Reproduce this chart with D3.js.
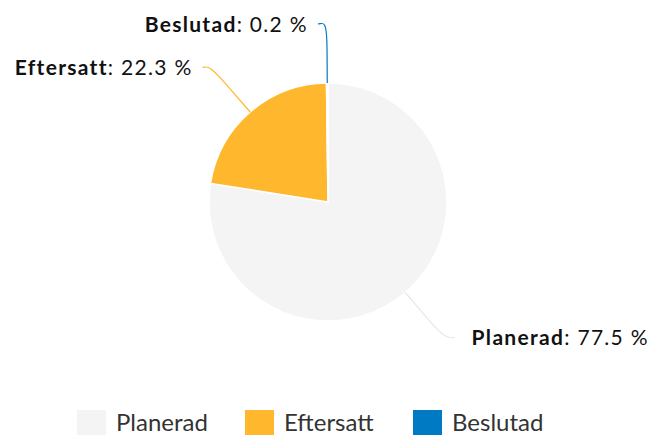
<!DOCTYPE html>
<html>
<head>
<meta charset="utf-8">
<script src="https://cdn.jsdelivr.net/npm/d3@7"></script>
<style>
  body { margin: 0; background: #fff; }
  #chart { width: 650px; height: 437px; }
  text { font-family: Lato, "Open Sans", sans-serif; }
</style>
</head>
<body>
<div id="chart"></div>
<script>
const categories = ["Planerad", "Eftersatt", "Beslutad"];
const values = [77.5, 22.3, 0.2];
const colors = ["#f4f4f4", "#ffb82e", "#007ac3"];
const connectorColors = ["#e8e8e8", "#ffb82e", "#007ac3"];

document.addEventListener("DOMContentLoaded", () => {
    const width = 650, height = 437;
    const cx = 328, cy = 202, radius = 119;
    const distance = 59;

    const svg = d3.select("#chart")
        .append("svg")
        .attr("width", width)
        .attr("height", height);

    const data = categories.map((c, i) => ({ name: c, value: values[i], color: colors[i], line: connectorColors[i] }));

    const pie = d3.pie().sort(null).value(d => d.value);
    const arcs = pie(data);
    const arc = d3.arc().innerRadius(0).outerRadius(radius);

    const g = svg.append("g").attr("transform", `translate(${cx},${cy})`);

    g.selectAll("path.slice")
        .data(arcs)
        .enter()
        .append("path")
        .attr("class", "slice")
        .attr("d", arc)
        .attr("fill", d => d.data.color)
        .attr("stroke", "#fff")
        .attr("stroke-width", 1.5)
        .attr("stroke-linejoin", "round");

    // point on a circle at given radius for the slice's mid angle
    const polar = (a, r) => [r * Math.sin(a), -r * Math.cos(a)];

    arcs.forEach(d => {
        const mid = (d.startAngle + d.endAngle) / 2;
        const side = Math.sin(mid) >= 0 ? 1 : -1;
        const touch = polar(mid, radius);
        const brk = polar(mid, radius + 33);
        const nat = polar(mid, radius + distance);
        const end = [nat[0] + side * (side > 0 ? 11 : 9), nat[1]];
        const labelX = nat[0] + side * (side > 0 ? 28 : 19);

        // soft connector: curve from label to break point, then straight to slice
        const path = d3.path();
        path.moveTo(end[0], end[1]);
        path.bezierCurveTo(end[0] - side * 5, end[1],
            2 * brk[0] - touch[0], 2 * brk[1] - touch[1],
            brk[0], brk[1]);
        path.lineTo(touch[0], touch[1]);

        g.append("path")
            .attr("d", path.toString())
            .attr("fill", "none")
            .attr("stroke", d.data.line)
            .attr("stroke-width", 1.2);

        const t = g.append("text")
            .attr("x", labelX)
            .attr("y", end[1])
            .attr("dy", "0.36em")
            .attr("text-anchor", side > 0 ? "start" : "end")
            .style("font-size", "21px")
            .style("letter-spacing", "1.3px")
            .attr("fill", "#111");
        t.append("tspan").style("font-weight", "bold").text(d.data.name);
        t.append("tspan").text(`: ${d.data.value} %`);
    });

    // Legend
    const legend = svg.append("g").attr("transform", "translate(77,410)");
    const item = legend.selectAll("g")
        .data(data)
        .enter()
        .append("g")
        .attr("transform", (d, i) => `translate(${i * 168},0)`);

    item.append("rect")
        .attr("width", 29)
        .attr("height", 25)
        .attr("fill", d => d.color);

    item.append("text")
        .attr("x", 39)
        .attr("y", 21)
        .style("font-size", "24px")
        .attr("fill", "#333")
        .text(d => d.name);
});
</script>
</body>
</html>
